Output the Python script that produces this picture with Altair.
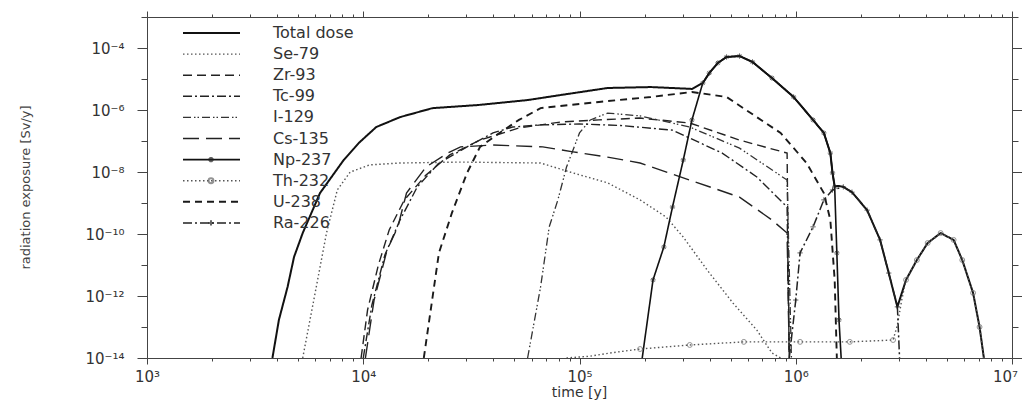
import altair as alt
import pandas as pd

SERIES = ["Total dose", "Se-79", "Zr-93", "Tc-99", "I-129", "Cs-135",
          "Np-237", "Th-232", "U-238", "Ra-226"]

# Values: log10(time [y]) and log10(dose [Sv/y])
TOTAL_LOGT = [3.58, 3.61, 3.65, 3.68, 3.72, 3.80, 3.91, 3.98, 4.06, 4.17,
              4.32, 4.53, 4.76, 4.91, 5.13, 5.33, 5.52, 5.57, 5.60, 5.64,
              5.68, 5.74, 5.80, 5.89, 5.99, 6.08, 6.13, 6.16, 6.17, 6.18,
              6.20, 6.22, 6.26, 6.33, 6.39, 6.43, 6.47, 6.51, 6.56, 6.61,
              6.67, 6.73, 6.77, 6.82, 6.85, 6.87]
TOTAL_LOGD = [-14, -12.77, -11.71, -10.74, -9.97, -8.68, -7.61, -7.06, -6.55, -6.23,
              -5.94, -5.84, -5.68, -5.52, -5.29, -5.26, -5.32, -5.13, -4.81, -4.48,
              -4.29, -4.26, -4.45, -4.97, -5.58, -6.32, -6.74, -7.39, -8.03, -8.46,
              -8.45, -8.48, -8.65, -9.23, -10.19, -11.26, -12.35, -11.48, -10.84, -10.29,
              -9.97, -10.19, -10.84, -11.90, -13.0, -14]

SE79_LOGT = [3.72, 3.78, 3.83, 3.88, 3.94, 4.03, 4.17, 4.45, 4.82, 4.97,
             5.13, 5.28, 5.40, 5.48, 5.59, 5.71, 5.82, 5.89, 5.93]
SE79_LOGD = [-14, -11.81, -9.97, -8.58, -8.0, -7.77, -7.71, -7.68, -7.71, -8.03,
             -8.35, -8.90, -9.45, -10.10, -11.16, -12.23, -13.10, -13.84, -14]

ZR93_LOGT = [3.99, 4.02, 4.07, 4.12, 4.19, 4.29, 4.40, 4.54, 4.72, 4.91,
             5.09, 5.28, 5.51, 5.74, 5.96, 5.97]
ZR93_LOGD = [-14, -12.45, -11.0, -9.87, -8.90, -8.10, -7.45, -6.97, -6.58, -6.39,
             -6.32, -6.26, -6.42, -6.97, -7.39, -14]

TC99_LOGT = [4.00, 4.04, 4.10, 4.17, 4.25, 4.35, 4.48, 4.60, 4.69, 4.82,
             5.00, 5.19, 5.43, 5.66, 5.82, 5.96, 5.97]
TC99_LOGD = [-14, -12.29, -10.68, -9.55, -8.48, -7.71, -7.19, -6.74, -6.55, -6.48,
             -6.45, -6.50, -6.65, -7.39, -8.16, -9.13, -14]

I129_LOGT = [4.76, 4.82, 4.86, 4.90, 4.94, 5.00, 5.05, 5.13, 5.28, 5.51,
             5.74, 5.96, 5.98]
I129_LOGD = [-14, -11.71, -9.77, -8.90, -7.84, -6.74, -6.32, -6.10, -6.19, -6.55,
             -7.23, -8.26, -14]

CS135_LOGT = [4.01, 4.05, 4.11, 4.16, 4.20, 4.29, 4.39, 4.45, 4.60, 4.83,
              4.97, 5.13, 5.28, 5.51, 5.74, 5.89, 5.96, 5.97]
CS135_LOGD = [-14, -12.13, -10.52, -9.77, -8.68, -7.84, -7.39, -7.19, -7.13, -7.19,
              -7.35, -7.52, -7.71, -8.26, -8.81, -9.55, -9.97, -14]

NP237_LOGT = [5.29, 5.34, 5.39, 5.43, 5.48, 5.52, 5.57, 5.60, 5.64, 5.68,
              5.74, 5.80, 5.89, 5.99, 6.08, 6.13, 6.16, 6.17, 6.18, 6.19,
              6.20, 6.21]
NP237_LOGD = [-14, -11.48, -10.42, -9.13, -7.61, -6.32, -5.13, -4.81, -4.48, -4.29,
              -4.26, -4.45, -4.97, -5.58, -6.32, -6.74, -7.39, -8.03, -8.48, -10.61,
              -12.77, -14]

TH232_LOGT = [4.94, 5.05, 5.14, 5.28, 5.51, 5.76, 6.02, 6.25, 6.45, 6.47,
              6.49, 6.51, 6.56, 6.61, 6.67, 6.73, 6.77, 6.82, 6.85, 6.87]
TH232_LOGD = [-14, -13.94, -13.84, -13.71, -13.58, -13.48, -13.48, -13.48, -13.42, -12.94,
              -12.13, -11.48, -10.84, -10.29, -9.97, -10.19, -10.84, -11.90, -13.0, -14]

U238_LOGT = [4.28, 4.35, 4.41, 4.48, 4.54, 4.63, 4.72, 4.82, 4.91, 5.09,
             5.33, 5.52, 5.68, 5.82, 5.93, 6.05, 6.13, 6.16, 6.18, 6.19]
U238_LOGD = [-14, -10.61, -9.32, -8.03, -7.19, -6.74, -6.32, -5.94, -5.87, -5.74,
             -5.58, -5.42, -5.58, -6.23, -6.74, -7.71, -8.68, -9.55, -11.48, -14]

RA226_LOGT = [5.97, 6.00, 6.02, 6.08, 6.13, 6.17, 6.22, 6.26, 6.33, 6.39,
              6.43, 6.47, 6.48]
RA226_LOGD = [-14, -12.13, -10.61, -9.77, -8.90, -8.58, -8.48, -8.65, -9.23, -10.19,
              -11.26, -12.35, -14]

CURVES = {
    "Total dose": (TOTAL_LOGT, TOTAL_LOGD),
    "Se-79": (SE79_LOGT, SE79_LOGD),
    "Zr-93": (ZR93_LOGT, ZR93_LOGD),
    "Tc-99": (TC99_LOGT, TC99_LOGD),
    "I-129": (I129_LOGT, I129_LOGD),
    "Cs-135": (CS135_LOGT, CS135_LOGD),
    "Np-237": (NP237_LOGT, NP237_LOGD),
    "Th-232": (TH232_LOGT, TH232_LOGD),
    "U-238": (U238_LOGT, U238_LOGD),
    "Ra-226": (RA226_LOGT, RA226_LOGD),
}

rows = []
for name, (lt, ld) in CURVES.items():
    assert len(lt) == len(ld), name
    n = len(lt)
    for i, (a, b) in enumerate(zip(lt, ld)):
        rows.append({"series": name, "i": i, "n": n, "t": 10 ** a, "dose": 10 ** b})
df = pd.DataFrame(rows)

STYLE = {
    "Total dose": dict(dash=[1, 0], width=2.0, color="#111111"),
    "Se-79": dict(dash=[1.5, 2.5], width=1.4, color="#555555"),
    "Zr-93": dict(dash=[9, 5], width=1.4, color="#222222"),
    "Tc-99": dict(dash=[9, 3, 2, 3], width=1.4, color="#222222"),
    "I-129": dict(dash=[8, 3, 1.5, 2, 1.5, 3], width=1.3, color="#333333"),
    "Cs-135": dict(dash=[16, 7], width=1.4, color="#222222"),
    "Np-237": dict(dash=[1, 0], width=1.6, color="#111111"),
    "Th-232": dict(dash=[1.5, 2.5], width=1.4, color="#555555"),
    "U-238": dict(dash=[7, 5], width=1.9, color="#1a1a1a"),
    "Ra-226": dict(dash=[9, 3, 2, 3], width=1.5, color="#222222"),
}

STAR = "M-1,0L1,0M0,-1L0,1M-0.7,-0.7L0.7,0.7M-0.7,0.7L0.7,-0.7"
PLUS = "M-1,0L1,0M0,-1L0,1"

SUP = {"0": "\u2070", "1": "\u00b9", "2": "\u00b2", "3": "\u00b3", "4": "\u2074",
       "5": "\u2075", "6": "\u2076", "7": "\u2077", "8": "\u2078", "9": "\u2079",
       "-": "\u207b"}


def sup(e):
    return "10" + "".join(SUP[c] for c in str(e))


E = "round(log(datum.value)/LN10)"
Y_LABELED = [-14, -12, -10, -8, -6, -4]
y_label_expr = "".join(f"{E} == {e} ? '{sup(e)}' : " for e in Y_LABELED) + "''"
X_LABELED = [3, 4, 5, 6, 7]
x_label_expr = (f"abs(log(datum.value)/LN10 - {E}) < 0.001 ? (" +
                "".join(f"{E} == {e} ? '{sup(e)}' : " for e in X_LABELED) + "'') : ''")

Y_TICKS = [10.0 ** e for e in range(-14, -2)]
X_TICKS = [k * 10 ** n for n in range(3, 7) for k in range(1, 10)] + [10 ** 7]

y_tick_size = {"condition": {"test": f"{E} % 2 == 0", "value": 10}, "value": 6}
x_tick_size = {"condition": {"test": f"abs(log(datum.value)/LN10 - {E}) < 0.001", "value": 6},
               "value": 3}
x_label_offset = {"condition": {"test": "datum.value > 5000000", "value": -7}, "value": 0}

xscale = alt.Scale(type="log", domain=[1e3, 1e7], nice=False)
yscale = alt.Scale(type="log", domain=[1e-14, 1e-3], nice=False)

FONT = "DejaVu Sans"

x_enc = alt.X("t:Q", scale=xscale, title="time [y]",
              axis=alt.Axis(values=X_TICKS, labelExpr=x_label_expr, labelOverlap=False,
                            labelFlush=False, tickSize=x_tick_size, labelPadding=5,
                            labelOffset=x_label_offset,
                            labelFontSize=15, labelFont=FONT, labelColor="#333333",
                            titleFont=FONT, titleFontSize=14, titleFontWeight="normal",
                            titleColor="#333333", titleX=432, titleY=34,
                            titleAlign="center", titleBaseline="middle",
                            domainColor="#444444", tickColor="#444444", grid=False))
y_enc = alt.Y("dose:Q", scale=yscale, title="radiation exposure [Sv/y]",
              axis=alt.Axis(values=Y_TICKS, labelExpr=y_label_expr, labelOverlap=False,
                            labelFlush=False, tickSize=y_tick_size, labelPadding=13,
                            labelFontSize=15, labelFont=FONT, labelColor="#333333",
                            titleFont=FONT, titleFontSize=13, titleFontWeight="normal",
                            titleColor="#444444", titleX=-122, titleY=170,
                            titleAngle=270, titleAlign="center", titleBaseline="middle",
                            domainColor="#444444", tickColor="#444444", grid=False))

layers = []
for name in SERIES:
    s = STYLE[name]
    layers.append(
        alt.Chart(df).transform_filter(alt.datum.series == name)
        .mark_line(clip=True, color=s["color"], strokeWidth=s["width"], strokeDash=s["dash"])
        .encode(x=x_enc, y=y_enc, order="i:Q")
    )

# markers on the marked curves
layers.append(
    alt.Chart(df).transform_filter((alt.datum.series == "Np-237") & (alt.datum.i > 0) & (alt.datum.i < alt.datum.n - 1))
    .mark_point(shape=STAR, filled=False, size=28, color="#222222", strokeWidth=1, clip=True)
    .encode(x=x_enc, y=y_enc)
)
layers.append(
    alt.Chart(df).transform_filter((alt.datum.series == "Th-232") & (alt.datum.i > 2) & (alt.datum.i < alt.datum.n - 1) & (alt.datum.i != 9) & (alt.datum.i != 10))
    .mark_point(shape="circle", filled=False, size=24, color="#666666", strokeWidth=1, clip=True)
    .encode(x=x_enc, y=y_enc)
)
layers.append(
    alt.Chart(df).transform_filter((alt.datum.series == "Ra-226") & (alt.datum.i > 0) & (alt.datum.i < alt.datum.n - 1))
    .mark_point(shape=PLUS, filled=False, size=28, color="#222222", strokeWidth=1, clip=True)
    .encode(x=x_enc, y=y_enc)
)

data_layers = alt.layer(*layers)

# frame: top and right axes with ticks only
frame = alt.Chart(df).transform_filter(alt.datum.series == "Total dose").mark_line(opacity=0).encode(
    x=alt.X("t:Q", scale=xscale, title="",
            axis=alt.Axis(orient="top", values=X_TICKS, labels=False, tickSize=x_tick_size,
                          domainColor="#444444", tickColor="#444444", grid=False)),
    y=alt.Y("dose:Q", scale=yscale, title="",
            axis=alt.Axis(orient="right", values=Y_TICKS, labels=False, tickSize=y_tick_size,
                          domainColor="#444444", tickColor="#444444", grid=False)),
)

# legend (upper left, inside the plot)
one = alt.Data(values=[{}])
legend_layers = []
for k, name in enumerate(SERIES):
    s = STYLE[name]
    yy = 16 + 21.1 * k
    legend_layers.append(
        alt.Chart(one).mark_rule(color=s["color"], strokeWidth=s["width"], strokeDash=s["dash"])
        .encode(x=alt.value(36), x2=alt.value(93), y=alt.value(yy))
    )
    legend_layers.append(
        alt.Chart(one).mark_text(align="left", baseline="middle", fontSize=16, font=FONT, color="#333333")
        .encode(x=alt.value(126), y=alt.value(yy), text=alt.value(name))
    )
    if name == "Np-237":
        legend_layers.append(alt.Chart(one).mark_point(shape=STAR, filled=False, size=28, color="#222222")
                             .encode(x=alt.value(64), y=alt.value(yy)))
    if name == "Th-232":
        legend_layers.append(alt.Chart(one).mark_point(shape="circle", filled=False, size=24, color="#666666")
                             .encode(x=alt.value(64), y=alt.value(yy)))
    if name == "Ra-226":
        legend_layers.append(alt.Chart(one).mark_point(shape=PLUS, filled=False, size=28, color="#222222")
                             .encode(x=alt.value(64), y=alt.value(yy)))

chart = (
    alt.layer(data_layers, frame, *legend_layers)
    .resolve_scale(x="independent", y="independent")
    .properties(width=865, height=341,
                padding={"left": 139, "top": 9, "right": 10, "bottom": 46},
                autosize=alt.AutoSizeParams(type="none"),
                background="white")
    .configure_view(strokeWidth=0)
)

chart.save("out.html", embed_options={"renderer": "svg", "actions": False})
